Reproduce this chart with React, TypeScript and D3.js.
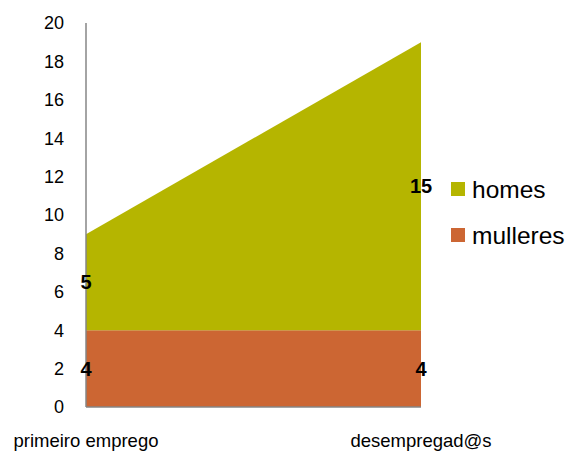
import React, {FC, useEffect, useRef} from 'react';
import * as d3 from 'd3';

const categories = ['primeiro emprego', 'desempregad@s'];
const mulleres = [4, 4];
const homes = [5, 15];
const seriesNames = ['homes', 'mulleres'];
const yTicks = [0, 2, 4, 6, 8, 10, 12, 14, 16, 18, 20];

const colors: Record<string, string> = {homes: '#B5B500', mulleres: '#CC6633'};

const App: FC = () => {
  const ref = useRef<SVGSVGElement>(null);

  useEffect(() => {
    const svg = d3.select(ref.current);
    svg.selectAll('*').remove();

    const left = 86, right = 421, top = 23, bottom = 407;
    const font = 'Arial, "Liberation Sans", sans-serif';

    const x = d3.scalePoint<string>().domain(categories).range([left, right]);
    const y = d3.scaleLinear().domain([0, 20]).range([bottom, top]);

    const rows = categories.map((c, i) => ({cat: c, mulleres: mulleres[i], homes: homes[i]}));
    const stacked = d3.stack<any>().keys(['mulleres', 'homes'])(rows);

    const area = d3
      .area<any>()
      .x(d => x(d.data.cat) as number)
      .y0(d => y(d[0]))
      .y1(d => y(d[1]));

    svg
      .selectAll('path.area')
      .data(stacked)
      .enter()
      .append('path')
      .attr('class', 'area')
      .attr('d', area)
      .attr('fill', d => colors[d.key]);

    // axes lines
    svg
      .append('line')
      .attr('x1', left).attr('x2', left)
      .attr('y1', top).attr('y2', bottom)
      .attr('stroke', '#868686').attr('stroke-width', 1.5);
    svg
      .append('line')
      .attr('x1', left).attr('x2', right)
      .attr('y1', bottom).attr('y2', bottom)
      .attr('stroke', '#868686').attr('stroke-width', 1.5);

    // y tick labels
    svg
      .selectAll('text.ytick')
      .data(yTicks)
      .enter()
      .append('text')
      .attr('class', 'ytick')
      .attr('x', 64)
      .attr('y', d => y(d))
      .attr('dy', '0.35em')
      .attr('text-anchor', 'end')
      .attr('font-family', font)
      .attr('font-size', 18)
      .text(d => d);

    // x labels
    svg
      .selectAll('text.xtick')
      .data(categories)
      .enter()
      .append('text')
      .attr('class', 'xtick')
      .attr('x', d => x(d) as number)
      .attr('y', 447)
      .attr('text-anchor', 'middle')
      .attr('font-family', font)
      .attr('font-size', 18.5)
      .text(d => d);

    // data labels
    stacked.forEach(s => {
      svg
        .selectAll(`text.lbl-${s.key}`)
        .data(s)
        .enter()
        .append('text')
        .attr('x', d => x(d.data.cat) as number)
        .attr('y', d => y((d[0] + d[1]) / 2))
        .attr('dy', '0.35em')
        .attr('text-anchor', 'middle')
        .attr('font-family', font)
        .attr('font-size', 20)
        .attr('font-weight', 'bold')
        .text(d => d[1] - d[0]);
    });

    // legend
    const legend = svg
      .selectAll('g.legend')
      .data(seriesNames)
      .enter()
      .append('g')
      .attr('transform', (_, i) => `translate(451, ${182 + i * 46})`);
    legend
      .append('rect')
      .attr('width', 14)
      .attr('height', 14)
      .attr('fill', d => colors[d]);
    legend
      .append('text')
      .attr('x', 21)
      .attr('y', 16)
      .attr('font-family', font)
      .attr('font-size', 24.5)
      .text(d => d);
  }, []);

  return (
    <svg
      ref={ref}
      width={573}
      height={453}
      style={{position: 'absolute', left: 0, top: 0}}
    />
  );
};

export default App;
